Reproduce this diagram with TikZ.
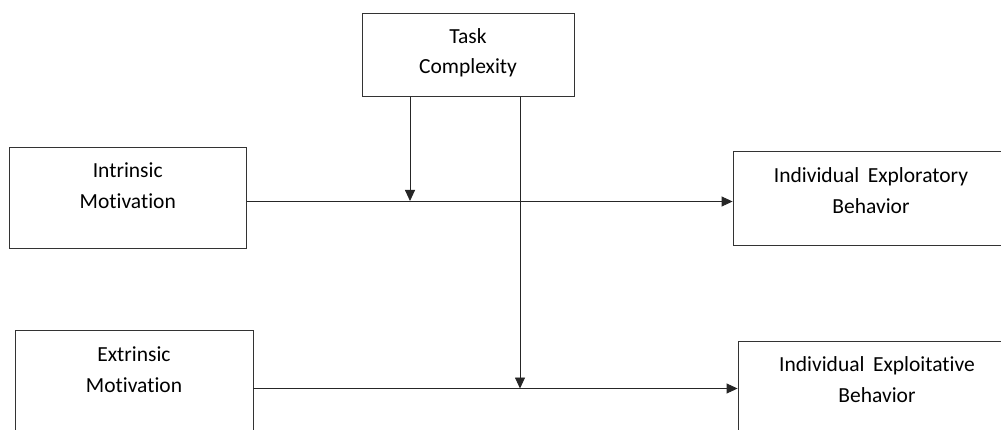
\documentclass[tikz,border=0pt]{standalone}
\usepackage{fontspec}
\setmainfont{Carlito}[Ligatures=NoCommon]
\usetikzlibrary{arrows.meta}
\tikzset{
  box/.style={draw=black!80, line width=0.9pt, inner sep=0pt, rectangle},
  lbl/.style={font=\fontsize{21.5}{30.7}\selectfont, align=center, inner sep=0pt, anchor=base, text=black},
  arr/.style={draw=black!85, line width=0.9pt, -{Triangle[length=11pt,width=10pt]}}
}
\begin{document}
\begin{tikzpicture}[x=1pt,y=-1pt]
\useasboundingbox (0,0) rectangle (1001,430);
\clip (0,0) rectangle (1001,430);
\fill[white] (0,0) rectangle (1001,430);
% boxes
\node[box, minimum width=212pt, minimum height=83.5pt] (task) at (468,54.75) {};
\node[box, minimum width=237.5pt, minimum height=101pt] (im) at (127.75,197.5) {};
\node[box, minimum width=276pt, minimum height=93.5pt] (eb) at (871,198.25) {};
\node[box, minimum width=238pt, minimum height=101pt] (xm) at (134,381.2) {};
\node[box, minimum width=278pt, minimum height=93.5pt] (xb) at (877,388.5) {};
% labels (base anchor = baseline of the last line)
\node[lbl] (taskt) at ([yshift=-61.2pt]task.north) {Task\\Complexity};
\node[lbl] (imt) at ([yshift=-61.7pt]im.north) {Intrinsic\\Motivation};
\node[lbl] (ebt) at ([yshift=-62.2pt]eb.north) {Individual\hspace{0.4em}Exploratory\\Behavior};
\node[lbl] (xmt) at ([yshift=-62.2pt]xm.north) {Extrinsic\\Motivation};
\node[lbl] (xbt) at ([yshift=-61.3pt]xb.north) {Individual\hspace{0.4em}Exploitative\\Behavior};
% connectors
\coordinate (h1) at (246.5,201.5);
\coordinate (h2) at (253,388.5);
\draw[arr] (h1 -| im.east) -- (h1 -| eb.west);
\draw[arr] (h2 -| xm.east) -- (h2 -| xb.west);
\coordinate (m1) at (410,201);
\coordinate (m2) at (520,388.5);
\draw[arr] (m1 |- task.south) -- (m1);
\draw[arr] (m2 |- task.south) -- (m2);
\end{tikzpicture}
\end{document}
